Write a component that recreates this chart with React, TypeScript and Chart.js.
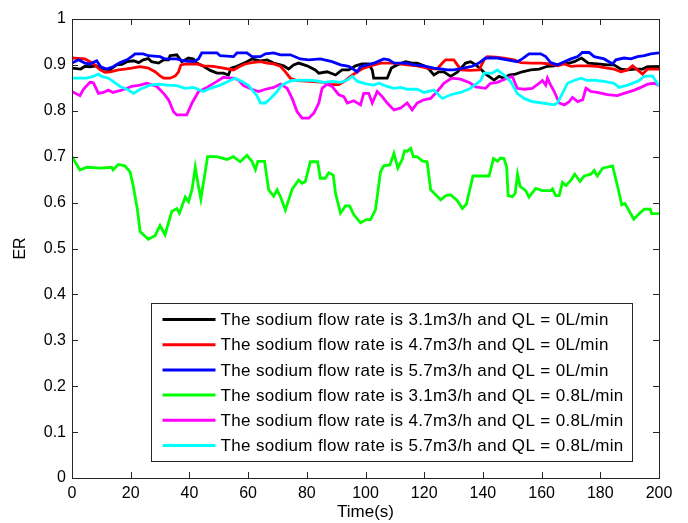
import React, { useEffect, useRef } from "react";
import { Chart, registerables } from "chart.js";

Chart.register(...registerables);

const xTicks = [0, 20, 40, 60, 80, 100, 120, 140, 160, 180, 200];
const yTicks = [0, 0.1, 0.2, 0.3, 0.4, 0.5, 0.6, 0.7, 0.8, 0.9, 1];

const seriesLabels = [
  "The sodium flow rate is 3.1m3/h and QL = 0L/min",
  "The sodium flow rate is 4.7m3/h and QL = 0L/min",
  "The sodium flow rate is 5.7m3/h and QL = 0L/min",
  "The sodium flow rate is 3.1m3/h and QL = 0.8L/min",
  "The sodium flow rate is 4.7m3/h and QL = 0.8L/min",
  "The sodium flow rate is 5.7m3/h and QL = 0.8L/min",
];
const seriesColors = ["#000000", "#ff0000", "#0000ff", "#00ff00", "#ff00ff", "#00ffff"];

// 3.1 m3/h, QL = 0
const blackT = [0, 3, 4.4, 6.1, 8.4, 11, 13, 15.2, 17, 18.7, 21, 22.7, 24.3, 26, 27.1, 29.5, 31.2, 32.9, 33.4, 35.7, 37.4, 39.7, 41.4, 42.5, 44.8, 47.1, 49.4, 51.6, 53.3, 54.2, 56.2, 59.6, 61.3, 64.2, 66.5, 68.7, 71, 72.1, 73.8, 75.5, 77.2, 80.1, 82.9, 84.1, 86.9, 89.8, 92, 94.3, 96.6, 98.8, 101.1, 102.3, 102.8, 107.4, 108.8, 110.8, 113.7, 115.9, 117.6, 119.9, 121.6, 123.3, 125, 126.7, 129, 131.3, 134.1, 135.8, 137.6, 139.2, 141, 143.8, 145.5, 147.2, 148.9, 151.1, 153.4, 156.3, 159.2, 162, 164.3, 167.1, 169.4, 171.1, 173.6, 175.9, 179, 182.4, 184.6, 187, 189.3, 191.6, 194.4, 196.1, 200];
const blackV = [0.893, 0.891, 0.897, 0.896, 0.898, 0.891, 0.89, 0.9, 0.901, 0.907, 0.909, 0.905, 0.911, 0.914, 0.907, 0.904, 0.911, 0.911, 0.92, 0.922, 0.907, 0.915, 0.913, 0.904, 0.897, 0.888, 0.882, 0.882, 0.878, 0.893, 0.897, 0.907, 0.913, 0.909, 0.911, 0.904, 0.9, 0.898, 0.891, 0.9, 0.904, 0.898, 0.889, 0.882, 0.885, 0.878, 0.889, 0.889, 0.898, 0.902, 0.902, 0.889, 0.871, 0.871, 0.893, 0.9, 0.907, 0.904, 0.904, 0.898, 0.891, 0.878, 0.885, 0.885, 0.875, 0.884, 0.904, 0.907, 0.9, 0.891, 0.88, 0.867, 0.875, 0.871, 0.878, 0.88, 0.885, 0.889, 0.891, 0.897, 0.898, 0.904, 0.904, 0.907, 0.915, 0.904, 0.902, 0.9, 0.9, 0.891, 0.889, 0.891, 0.891, 0.896, 0.896];

// 4.7 m3/h, QL = 0
const redT = [0, 4.4, 6.7, 7.8, 9.6, 11.3, 13, 15.8, 18, 20.3, 23.2, 26, 28.3, 30, 31.2, 33.4, 35.2, 36.3, 37.1, 39.1, 42.5, 44.8, 48.2, 51.6, 55, 57.3, 59, 61.3, 64.2, 66.5, 68.7, 71, 72.7, 74.4, 76.7, 81.2, 85.8, 88, 90.9, 93.2, 94.9, 97.2, 99.4, 101.7, 105.1, 109.7, 114.2, 117.6, 121, 124.4, 126.2, 127.3, 130.1, 131.3, 132.6, 135.5, 138.7, 140.4, 141.5, 144.4, 147.2, 150.6, 152.9, 156.3, 159.7, 163.1, 165.4, 167.7, 170, 172.3, 175.7, 179, 182.4, 184.6, 187, 189.3, 191, 192.7, 194.4, 196.1, 200];
const redV = [0.915, 0.913, 0.905, 0.9, 0.889, 0.884, 0.885, 0.889, 0.891, 0.893, 0.896, 0.893, 0.885, 0.876, 0.871, 0.871, 0.876, 0.885, 0.9, 0.902, 0.902, 0.898, 0.897, 0.893, 0.889, 0.897, 0.902, 0.905, 0.907, 0.904, 0.902, 0.897, 0.885, 0.871, 0.866, 0.864, 0.862, 0.857, 0.857, 0.866, 0.875, 0.885, 0.893, 0.898, 0.904, 0.904, 0.9, 0.898, 0.893, 0.891, 0.904, 0.911, 0.911, 0.9, 0.889, 0.888, 0.889, 0.911, 0.918, 0.917, 0.915, 0.911, 0.905, 0.904, 0.904, 0.902, 0.898, 0.902, 0.897, 0.898, 0.898, 0.897, 0.893, 0.891, 0.885, 0.889, 0.898, 0.889, 0.88, 0.891, 0.891];

// 5.7 m3/h, QL = 0
const blueT = [0, 2.2, 4.4, 6.1, 8.4, 9.8, 11.8, 14, 16.4, 18.7, 20.3, 21.5, 24.3, 26, 30, 31.7, 35.7, 37.9, 41.4, 43.1, 44.2, 49.4, 50.5, 55, 56.2, 59.6, 61.3, 64.2, 65.9, 68.7, 71, 74.4, 77.8, 80.7, 84.6, 88.6, 91.5, 94.3, 97.2, 98.3, 100.6, 103.4, 106.2, 108, 109.7, 114.2, 116.5, 119.9, 123.3, 126.2, 127.9, 130.1, 133.3, 136.4, 138.6, 140.9, 144.9, 148.3, 151.7, 153.4, 155.7, 159.7, 161.4, 163.1, 165.4, 167.7, 170, 172.3, 173.9, 176.2, 177.9, 181.3, 184.2, 185.3, 188.1, 190.4, 192.7, 195, 197.2, 200];
const blueV = [0.904, 0.911, 0.904, 0.902, 0.909, 0.896, 0.891, 0.896, 0.905, 0.911, 0.918, 0.924, 0.924, 0.92, 0.918, 0.913, 0.913, 0.909, 0.907, 0.913, 0.926, 0.926, 0.92, 0.918, 0.926, 0.926, 0.918, 0.918, 0.924, 0.926, 0.922, 0.922, 0.913, 0.911, 0.913, 0.907, 0.9, 0.897, 0.885, 0.896, 0.9, 0.905, 0.913, 0.911, 0.904, 0.904, 0.9, 0.898, 0.893, 0.891, 0.889, 0.889, 0.893, 0.897, 0.904, 0.915, 0.915, 0.911, 0.907, 0.913, 0.924, 0.924, 0.918, 0.905, 0.9, 0.907, 0.913, 0.918, 0.927, 0.927, 0.918, 0.913, 0.902, 0.911, 0.915, 0.913, 0.918, 0.92, 0.924, 0.926];

// 3.1 m3/h, QL = 0.8
const greenT = [0, 2.7, 5, 9.6, 13.5, 14, 15.8, 18, 19.8, 20.9, 22.3, 23.2, 26, 28.3, 30, 31.7, 34, 35.7, 36.6, 38.6, 39.7, 40.9, 42, 42.8, 43.9, 46.2, 49.3, 52.8, 55, 57.3, 59.6, 61.3, 62.5, 63.3, 65.6, 67, 68.7, 69.9, 71.2, 72.7, 75, 77.2, 78.4, 79.5, 81.2, 83.7, 84.6, 86.3, 87.5, 89, 89.8, 91.5, 93.2, 94.6, 96, 98.3, 100.3, 101.7, 103.4, 105.1, 106.2, 108.3, 109.7, 111, 112.5, 113.3, 114.2, 115.4, 116.3, 117.6, 119.3, 121, 122.2, 123.9, 125.6, 127.3, 129, 131.3, 133, 134.4, 136.6, 142.1, 143.6, 145, 146, 147.2, 148.1, 148.6, 150, 151, 151.8, 152.7, 154.6, 155.7, 158, 160.3, 163.1, 163.7, 164.8, 166, 167.1, 168.3, 170, 171.3, 173.1, 174.5, 176.8, 177.9, 179, 180.8, 184.2, 185.9, 187.3, 188.4, 189.3, 191.4, 193.3, 195, 197, 197.5, 200];
const greenV = [0.7, 0.671, 0.677, 0.675, 0.677, 0.671, 0.683, 0.68, 0.667, 0.635, 0.584, 0.537, 0.52, 0.528, 0.55, 0.53, 0.581, 0.587, 0.577, 0.612, 0.602, 0.628, 0.677, 0.646, 0.608, 0.7, 0.7, 0.694, 0.7, 0.689, 0.703, 0.69, 0.672, 0.69, 0.69, 0.628, 0.614, 0.628, 0.61, 0.584, 0.629, 0.649, 0.642, 0.646, 0.689, 0.689, 0.653, 0.653, 0.665, 0.66, 0.62, 0.577, 0.593, 0.593, 0.574, 0.556, 0.563, 0.563, 0.584, 0.667, 0.68, 0.682, 0.707, 0.675, 0.694, 0.713, 0.712, 0.718, 0.7, 0.7, 0.691, 0.689, 0.628, 0.617, 0.606, 0.615, 0.617, 0.604, 0.587, 0.597, 0.658, 0.658, 0.696, 0.69, 0.697, 0.696, 0.677, 0.615, 0.613, 0.62, 0.662, 0.635, 0.626, 0.612, 0.631, 0.626, 0.626, 0.63, 0.615, 0.615, 0.644, 0.637, 0.649, 0.662, 0.646, 0.658, 0.662, 0.67, 0.658, 0.675, 0.68, 0.635, 0.595, 0.598, 0.588, 0.564, 0.576, 0.586, 0.586, 0.576, 0.576];

// 4.7 m3/h, QL = 0.8
const magentaT = [0, 2.7, 3.9, 6.1, 7.3, 9, 10.7, 12.4, 14, 16.9, 18.7, 20.3, 23.2, 25.5, 28.9, 31.2, 32.9, 34.6, 35.7, 39.1, 40.9, 43.1, 46, 49.4, 51.6, 53.9, 55, 56.7, 58.4, 61.3, 63.6, 65.9, 68.7, 71, 73.3, 75, 76.7, 78.4, 80.7, 82.4, 84.1, 85.2, 86.9, 88.6, 90.9, 92.6, 93.8, 96, 98.3, 99.4, 101.1, 102.3, 104, 105.7, 107.4, 109.7, 112, 114.2, 115.9, 117.6, 119.9, 122.2, 124.4, 126.7, 129.3, 132.4, 135.5, 137.6, 140.9, 142.6, 144.9, 148.3, 150, 151.7, 154, 156.8, 159.2, 160.3, 161.4, 162, 163.1, 164.3, 166, 167.7, 169.4, 170.5, 172.3, 174, 175.1, 176.8, 179, 182.4, 185.8, 188.1, 191.6, 193.8, 196.1, 198.4, 200];
const magentaV = [0.842, 0.833, 0.847, 0.862, 0.861, 0.838, 0.84, 0.845, 0.84, 0.845, 0.849, 0.853, 0.856, 0.86, 0.853, 0.838, 0.824, 0.798, 0.791, 0.791, 0.817, 0.842, 0.851, 0.864, 0.873, 0.871, 0.871, 0.867, 0.855, 0.847, 0.842, 0.847, 0.851, 0.858, 0.849, 0.827, 0.798, 0.784, 0.784, 0.795, 0.817, 0.849, 0.858, 0.853, 0.835, 0.831, 0.817, 0.822, 0.813, 0.838, 0.838, 0.817, 0.842, 0.831, 0.817, 0.802, 0.806, 0.817, 0.802, 0.817, 0.824, 0.827, 0.842, 0.86, 0.871, 0.869, 0.861, 0.852, 0.849, 0.86, 0.862, 0.871, 0.875, 0.849, 0.847, 0.849, 0.86, 0.866, 0.856, 0.871, 0.856, 0.842, 0.817, 0.813, 0.82, 0.829, 0.82, 0.824, 0.849, 0.842, 0.84, 0.835, 0.833, 0.838, 0.845, 0.851, 0.858, 0.86, 0.855];

// 5.7 m3/h, QL = 0.8
const cyanT = [0, 5, 7.3, 9, 10.1, 12.4, 14, 16.4, 18.7, 21, 23.2, 26.6, 30, 32.2, 35.7, 38.6, 41.4, 44.8, 47.1, 50.5, 53.9, 55.6, 57.9, 60.2, 63, 64.2, 65.9, 67.6, 69.9, 71, 72.7, 75, 78.9, 82.4, 85.8, 88.6, 91.5, 93.8, 95.5, 97.2, 100.6, 102.8, 104.6, 107.4, 109.7, 112, 114.2, 117.6, 119.9, 123.3, 126.2, 129, 132.4, 135.5, 137.6, 139.2, 140.4, 143.2, 144.9, 147.2, 149.4, 151.7, 154, 156.8, 160.3, 164.3, 165.4, 167.1, 168.8, 171.1, 173.4, 175.7, 177.9, 181.3, 184.6, 186.4, 189.3, 192.7, 195, 197.8, 199.4, 200];
const cyanV = [0.871, 0.871, 0.875, 0.88, 0.875, 0.871, 0.864, 0.853, 0.847, 0.838, 0.847, 0.856, 0.858, 0.856, 0.855, 0.849, 0.851, 0.842, 0.849, 0.856, 0.866, 0.871, 0.864, 0.855, 0.833, 0.817, 0.817, 0.827, 0.842, 0.853, 0.86, 0.866, 0.867, 0.866, 0.862, 0.864, 0.862, 0.867, 0.875, 0.864, 0.858, 0.856, 0.86, 0.853, 0.849, 0.851, 0.847, 0.847, 0.84, 0.845, 0.827, 0.835, 0.84, 0.848, 0.858, 0.866, 0.882, 0.882, 0.889, 0.878, 0.864, 0.838, 0.827, 0.82, 0.817, 0.813, 0.817, 0.838, 0.86, 0.866, 0.871, 0.866, 0.867, 0.864, 0.86, 0.851, 0.856, 0.864, 0.875, 0.876, 0.86, 0.855];

const seriesT = [blackT, redT, blueT, greenT, magentaT, cyanT];
const seriesV = [blackV, redV, blueV, greenV, magentaV, cyanV];

const FONT = '"Liberation Sans", Arial, Helvetica, sans-serif';
const AXIS_COLOR = "#262626";

const framePlugin = {
  id: "matlabFrame",
  afterDraw(chart: any) {
    const { ctx, chartArea } = chart;
    const { left, right, top, bottom } = chartArea;
    const xs = chart.scales.x;
    const ys = chart.scales.y;
    ctx.save();
    ctx.strokeStyle = AXIS_COLOR;
    ctx.lineWidth = 1;
    ctx.strokeRect(Math.round(left) + 0.5, Math.round(top) + 0.5, Math.round(right - left), Math.round(bottom - top));
    const L = 6;
    ctx.beginPath();
    xTicks.forEach((v) => {
      const px = Math.round(xs.getPixelForValue(v)) + 0.5;
      ctx.moveTo(px, bottom);
      ctx.lineTo(px, bottom - L);
      ctx.moveTo(px, top);
      ctx.lineTo(px, top + L);
    });
    yTicks.forEach((v) => {
      const py = Math.round(ys.getPixelForValue(v)) + 0.5;
      ctx.moveTo(left, py);
      ctx.lineTo(left + L, py);
      ctx.moveTo(right, py);
      ctx.lineTo(right - L, py);
    });
    ctx.stroke();

    // legend box (inside axes, lower right)
    ctx.font = `17px ${FONT}`;
    try {
      (ctx as any).letterSpacing = "0.35px";
    } catch (e) {}
    const datasets = chart.data.datasets;
    let maxW = 0;
    datasets.forEach((d: any) => {
      maxW = Math.max(maxW, ctx.measureText(d.label).width);
    });
    const padL = 11;
    const lineLen = 53;
    const gap = 5;
    const padR = 9;
    const rowH = 25.2;
    const padT = 3.4;
    const boxW = padL + lineLen + gap + maxW + padR;
    const boxH = padT * 2 + rowH * datasets.length;
    const boxRight = right - 27;
    const boxBottom = bottom - 17;
    const bx = Math.round(boxRight - boxW) + 0.5;
    const by = Math.round(boxBottom - boxH) + 0.5;
    ctx.fillStyle = "#ffffff";
    ctx.fillRect(bx, by, boxW, boxH);
    ctx.strokeStyle = AXIS_COLOR;
    ctx.lineWidth = 1;
    ctx.strokeRect(bx, by, Math.round(boxW), Math.round(boxH));
    ctx.textBaseline = "middle";
    ctx.textAlign = "left";
    datasets.forEach((d: any, i: number) => {
      const cy = by + padT + rowH * (i + 0.5);
      ctx.strokeStyle = d.borderColor;
      ctx.lineWidth = 3;
      ctx.beginPath();
      ctx.moveTo(bx + padL, cy);
      ctx.lineTo(bx + padL + lineLen, cy);
      ctx.stroke();
      ctx.fillStyle = "#000000";
      ctx.fillText(d.label, bx + padL + lineLen + gap, cy + 1);
    });
    ctx.restore();
  },
};

export default function App() {
  const canvasRef = useRef<HTMLCanvasElement | null>(null);

  useEffect(() => {
    if (!canvasRef.current) return;
    const datasets = seriesLabels.map((label, i) => ({
      label,
      data: seriesT[i].map((t, j) => ({ x: t, y: seriesV[i][j] })),
      borderColor: seriesColors[i],
      backgroundColor: seriesColors[i],
      borderWidth: 2.8,
      pointRadius: 0,
      tension: 0,
      fill: false,
      order: seriesLabels.length - 1 - i,
    }));

    const chart = new Chart(canvasRef.current, {
      type: "line",
      data: { datasets },
      options: {
        animation: false,
        responsive: true,
        maintainAspectRatio: false,
        layout: { padding: { top: 19, right: 29, left: 0, bottom: 0 } },
        plugins: {
          legend: { display: false },
          tooltip: { enabled: false },
        },
        scales: {
          x: {
            type: "linear",
            min: 0,
            max: 200,
            grid: { display: false, drawTicks: false },
            border: { display: false },
            afterBuildTicks: (scale: any) => {
              scale.ticks = xTicks.map((v) => ({ value: v }));
            },
            afterFit: (scale: any) => {
              scale.height = 45;
            },
            ticks: {
              color: "#000000",
              font: { family: FONT, size: 16 },
              padding: 6,
              maxRotation: 0,
              autoSkip: false,
              callback: (v: any) => String(v),
            },
            title: {
              display: true,
              text: "Time(s)",
              color: "#000000",
              font: { family: FONT, size: 17 },
              padding: { top: 0, bottom: 0 },
            },
          },
          y: {
            type: "linear",
            min: 0,
            max: 1,
            grid: { display: false, drawTicks: false },
            border: { display: false },
            afterBuildTicks: (scale: any) => {
              scale.ticks = yTicks.map((v) => ({ value: v }));
            },
            afterFit: (scale: any) => {
              scale.width = 72;
            },
            ticks: {
              color: "#000000",
              font: { family: FONT, size: 16 },
              padding: 6,
              autoSkip: false,
              callback: (v: any) => {
                const n = Number(v);
                if (n === 0) return "0";
                if (n === 1) return "1";
                return n.toFixed(1);
              },
            },
            title: {
              display: true,
              text: "ER",
              color: "#000000",
              font: { family: FONT, size: 16 },
              padding: { top: 11, bottom: 0 },
            },
          },
        },
      },
      plugins: [framePlugin],
    });
    return () => chart.destroy();
  }, []);

  return (
    <div style={{ position: "absolute", left: 0, top: 0, width: 688, height: 523, background: "#ffffff" }}>
      <canvas ref={canvasRef} />
    </div>
  );
}
